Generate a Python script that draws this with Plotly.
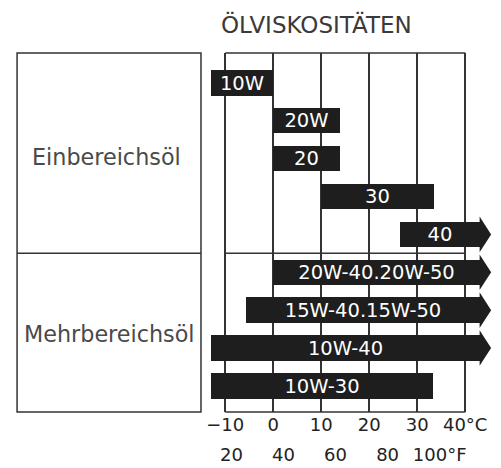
import plotly.graph_objects as go

# ---- data (°C) ----
grades = ["10W", "20W", "20", "30", "40",
          "20W-40.20W-50", "15W-40.15W-50", "10W-40", "10W-30"]
start_c = [-12.9, 0, 0, 10, 26.5, 0, -5.6, -12.9, -12.9]
end_c = [0, 14, 14, 33.5, 43.1, 43.1, 43.1, 43.1, 33.3]
open_ended = [False, False, False, False, True, True, True, True, False]
groups = ["Einbereichsöl", "Mehrbereichsöl"]

c_ticks = [-10, 0, 10, 20, 30, 40]
c_ticktext = ["−10", "0", "10", "20", "30", "40°C"]
f_ticks = [20, 40, 60, 80, 100]
f_ticktext = ["20", "40", "60", "80", "100°F"]
title = "ÖLVISKOSITÄTEN"

# ---- style ----
FONT = "DejaVu Sans"
BAR = "#1e1e1e"
LINE = "#333333"
BAR_W = 0.67
HEAD_LEN = 2.3
HEAD_HALF = 0.47
Y_RANGE = [8.69, -0.79]
X_RANGE = [-14, 46]
F_RANGE = [10.2, 120.9]

ypos = list(range(len(grades)))

fig = go.Figure()
fig.add_trace(go.Bar(
    orientation="h",
    y=ypos,
    base=start_c,
    x=[e - s for s, e in zip(start_c, end_c)],
    width=BAR_W,
    marker=dict(color=BAR, line=dict(width=0)),
    text=grades,
    textposition="inside",
    insidetextanchor="middle",
    constraintext="none",
    textfont=dict(family=FONT, size=19.5, color="white"),
    hoverinfo="skip",
    showlegend=False,
))

# arrow heads for open-ended grades
for y, e, o in zip(ypos, end_c, open_ended):
    if not o:
        continue
    fig.add_trace(go.Scatter(
        x=[e - 0.1, e + HEAD_LEN, e - 0.1, e - 0.1],
        y=[y - HEAD_HALF, y, y + HEAD_HALF, y - HEAD_HALF],
        mode="lines", fill="toself", fillcolor=BAR,
        line=dict(width=0, color=BAR),
        hoverinfo="skip", showlegend=False,
    ))

# dummy trace for the Fahrenheit axis
fig.add_trace(go.Scatter(x=f_ticks, y=[None] * len(f_ticks), xaxis="x2",
                         mode="markers", hoverinfo="skip", showlegend=False))

n_single = sum(1 for g in grades if "-" not in g)
div_y = n_single - 0.5
div_paper = (Y_RANGE[0] - div_y) / (Y_RANGE[0] - Y_RANGE[1])

shapes = []
lw = 1.5
for yp in [0, 1]:
    shapes.append(dict(type="line", xref="x", yref="paper", x0=c_ticks[0], x1=c_ticks[-1],
                       y0=yp, y1=yp, line=dict(color=LINE, width=lw), layer="below"))
shapes.append(dict(type="line", xref="x", yref="y", x0=c_ticks[0], x1=c_ticks[-1],
                   y0=div_y, y1=div_y, line=dict(color=LINE, width=lw), layer="below"))
LX0, LX1 = -0.656, -0.0174
shapes.append(dict(type="rect", xref="paper", yref="paper", x0=LX0, x1=LX1, y0=0, y1=1,
                   line=dict(color=LINE, width=lw)))
shapes.append(dict(type="line", xref="paper", yref="paper", x0=LX0, x1=LX1,
                   y0=div_paper, y1=div_paper, line=dict(color=LINE, width=lw)))

annotations = [
    dict(text=title, xref="paper", yref="paper", x=0.382, y=1.078, showarrow=False,
         xanchor="center", yanchor="middle", font=dict(family=FONT, size=23, color="#3a3a3a")),
    dict(text=groups[0], xref="paper", yref="paper", x=(LX0 + LX1) / 2 - 0.01, y=0.711,
         showarrow=False, xanchor="center", yanchor="middle",
         font=dict(family=FONT, size=22.3, color="#4a4a4a")),
    dict(text=groups[1], xref="paper", yref="paper", x=(LX0 + LX1) / 2 + 0.003, y=0.217,
         showarrow=False, xanchor="center", yanchor="middle",
         font=dict(family=FONT, size=22.3, color="#4a4a4a")),
]

# page body has an 8px margin: figure is sized to fit the remaining window
fig.update_layout(
    width=493, height=460,
    margin=dict(l=198, r=7, t=45, b=56, autoexpand=False),
    paper_bgcolor="white", plot_bgcolor="white",
    bargap=0,
    shapes=shapes,
    annotations=annotations,
    xaxis=dict(range=X_RANGE, tickvals=c_ticks, ticktext=c_ticktext,
               showgrid=True, gridcolor=LINE, gridwidth=lw, zeroline=False,
               showline=False, ticks="", fixedrange=True, automargin=False,
               tickfont=dict(family=FONT, size=18, color="#222")),
    xaxis2=dict(range=F_RANGE, overlaying="x", anchor="y", side="bottom",
                tickvals=f_ticks, ticktext=f_ticktext, showgrid=False, zeroline=False,
                showline=False, ticks="", ticklabelstandoff=30, automargin=False,
                tickfont=dict(family=FONT, size=18, color="#222")),
    yaxis=dict(range=Y_RANGE, showticklabels=False, showgrid=False, zeroline=False,
               showline=False, ticks="", automargin=False),
)

fig.write_html("out.html")
